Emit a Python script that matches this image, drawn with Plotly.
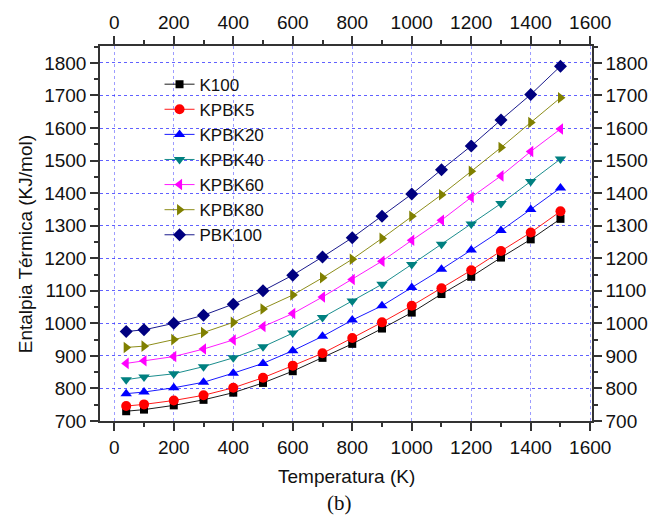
import plotly.graph_objects as go

temperature = [40, 100, 200, 300, 400, 500, 600, 700, 800, 900, 1000, 1100, 1200, 1300, 1400, 1500]

K100 = [730, 735, 748, 765, 787, 817, 853, 894, 937, 984, 1033, 1090, 1143, 1202, 1258, 1321]
KPBK5 = [746, 751, 763, 779, 802, 833, 870, 908, 955, 1003, 1054, 1108, 1163, 1222, 1279, 1344]
KPBK20 = [784, 789, 802, 819, 847, 877, 916, 960, 1010, 1054, 1110, 1166, 1225, 1285, 1350, 1416]
KPBK40 = [827, 835, 845, 867, 894, 928, 970, 1018, 1069, 1120, 1181, 1243, 1305, 1368, 1436, 1505]
KPBK60 = [877, 885, 898, 921, 949, 990, 1030, 1081, 1135, 1191, 1255, 1317, 1387, 1453, 1528, 1597]
KPBK80 = [926, 930, 950, 972, 1003, 1044, 1087, 1140, 1197, 1261, 1329, 1395, 1467, 1540, 1617, 1693]
PBK100 = [975, 980, 1000, 1025, 1059, 1100, 1148, 1204, 1263, 1329, 1397, 1472, 1545, 1625, 1703, 1790]

series_names = ["K100", "KPBK5", "KPBK20", "KPBK40", "KPBK60", "KPBK80", "PBK100"]
series_values = [K100, KPBK5, KPBK20, KPBK40, KPBK60, KPBK80, PBK100]
colors = ["#000000", "#FF0000", "#0000FF", "#008080", "#FF00FF", "#808000", "#000080"]
symbols = ["square", "circle", "triangle-up", "triangle-down", "triangle-left", "triangle-right", "diamond"]
sizes = [8, 10, 10, 10, 10, 10, 10]

x_title = "Temperatura (K)"
y_title = "Entalpia Térmica (KJ/mol)"
caption = "(b)"

XR = [-48, 1606]
YR = [700, 1852]
FONT = "Liberation Sans, Arial, sans-serif"

fig = go.Figure()
for name, vals, c, s, sz in zip(series_names, series_values, colors, symbols, sizes):
    fig.add_trace(go.Scatter(
        x=temperature, y=vals, name=name, mode="lines+markers",
        line=dict(color=c, width=0.9),
        marker=dict(color=c, symbol=s, size=sz, line=dict(width=0)),
    ))

axis_common = dict(
    showline=True, linecolor="#333333", linewidth=1.5,
    ticks="outside", ticklen=8, tickwidth=1.5, tickcolor="#333333",
    tickfont=dict(family=FONT, size=19, color="#111111"),
    zeroline=False,
)

fig.update_layout(
    width=660, height=520,
    margin=dict(l=100, r=48, t=44, b=99),
    paper_bgcolor="white", plot_bgcolor="white",
    font=dict(family=FONT, color="#111111"),
    xaxis=dict(range=XR, dtick=200, tick0=0, showgrid=True,
               gridcolor="rgba(90,90,255,0.6)", griddash="dot", gridwidth=1,
               minor=dict(dtick=100, tick0=0, ticks="outside", ticklen=4, tickcolor="#333333", showgrid=False),
               **axis_common),
    yaxis=dict(range=YR, dtick=100, tick0=700, showgrid=True,
               gridcolor="rgba(30,30,255,0.7)", griddash="dot", gridwidth=1,
               minor=dict(dtick=50, tick0=700, ticks="outside", ticklen=4, tickcolor="#333333", showgrid=False),
               **axis_common),
    xaxis2=dict(range=XR, dtick=200, tick0=0, overlaying="x", side="top", anchor="y",
                showgrid=False,
                minor=dict(dtick=100, tick0=0, ticks="outside", ticklen=4, tickcolor="#333333"),
                **axis_common),
    yaxis2=dict(range=YR, dtick=100, tick0=700, overlaying="y", side="right", anchor="x",
                showgrid=False,
                minor=dict(dtick=50, tick0=700, ticks="outside", ticklen=4, tickcolor="#333333"),
                **axis_common),
    legend=dict(x=0.121, y=0.945, xanchor="left", yanchor="top",
                bgcolor="rgba(0,0,0,0)", borderwidth=0,
                font=dict(family=FONT, size=17, color="#111111"),
                tracegroupgap=0),
    showlegend=True,
)

# mirror axes need a trace to be drawn: invisible copy of one series on x2/y2
fig.add_trace(go.Scatter(x=temperature, y=K100, xaxis="x2", yaxis="y2",
                         mode="markers", marker=dict(opacity=0), showlegend=False,
                         hoverinfo="skip"))

fig.add_annotation(text=x_title, xref="paper", yref="paper", x=0.5, y=-0.1485,
                   showarrow=False, font=dict(family=FONT, size=19, color="#111111"),
                   xanchor="center", yanchor="middle")
fig.add_annotation(text=y_title, xref="paper", yref="paper", x=-0.152, y=0.472,
                   showarrow=False, textangle=-90,
                   font=dict(family=FONT, size=19, color="#111111"),
                   xanchor="center", yanchor="middle")
fig.add_annotation(text=caption, xref="paper", yref="paper", x=(349 - 100) / 512, y=(421 - 503) / 377,
                   showarrow=False,
                   font=dict(family="Liberation Serif, Times New Roman, serif", size=21, color="#111111"),
                   xanchor="center", yanchor="middle")

fig.write_html("out.html")
